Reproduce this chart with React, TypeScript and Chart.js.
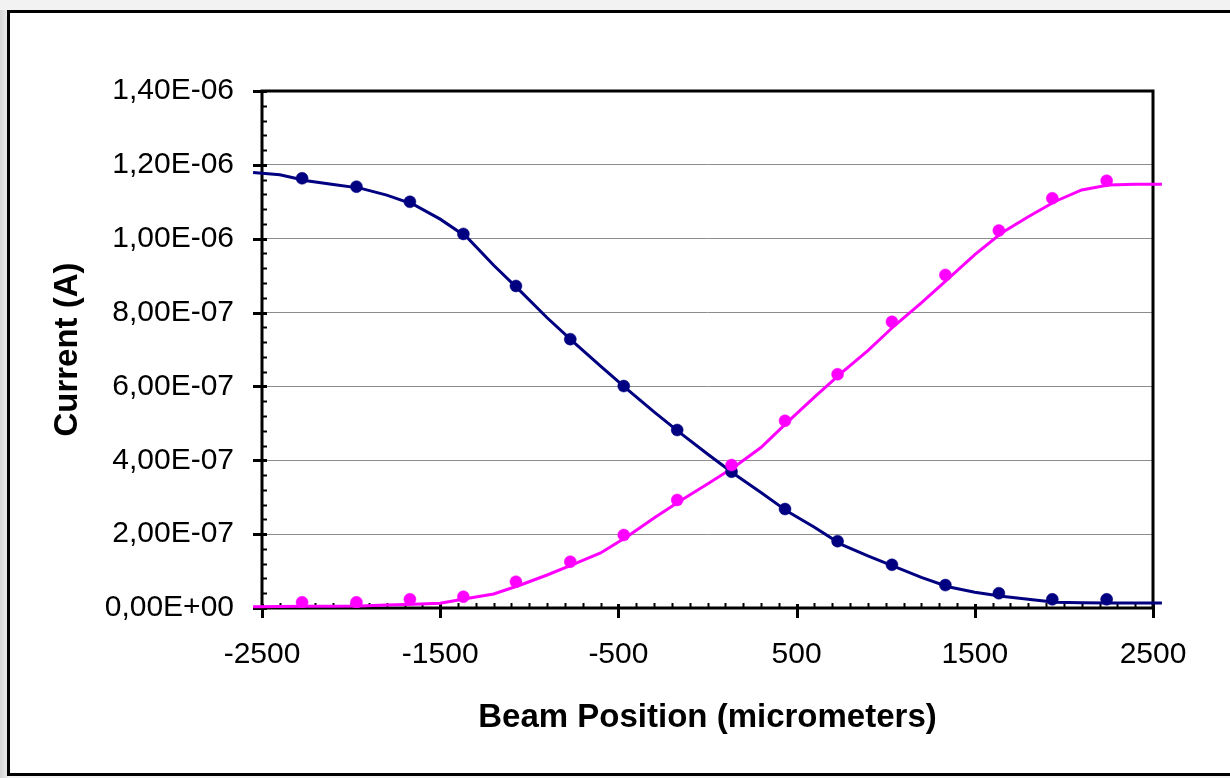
import React, { useEffect, useRef } from "react";
import { Chart, registerables } from "chart.js";

Chart.register(...registerables);

// Measured data points (x in micrometers, y in microamperes)
const pointX = [-2275, -1970, -1670, -1370, -1075, -770, -470, -170, 135, 435, 730, 1035, 1335, 1635, 1935, 2240];
const blueMeasured = [1.1636, 1.141, 1.1, 1.013, 0.872, 0.728, 0.601, 0.482, 0.369, 0.268, 0.181, 0.117, 0.062, 0.04, 0.0235, 0.0235];
const pinkMeasured = [0.0154, 0.0154, 0.0236, 0.0306, 0.0712, 0.1254, 0.1977, 0.2925, 0.387, 0.507, 0.633, 0.775, 0.902, 1.022, 1.1095, 1.157];

// Fit curves (x in micrometers, y in microamperes)
const fitX = [-2550, -2400, -2250, -2100, -1950, -1800, -1650, -1500, -1350, -1200, -1050, -900, -750, -600, -450, -300, -150, 0, 150, 300, 450, 600, 750, 900, 1050, 1200, 1350, 1500, 1650, 1800, 1950, 2100, 2250, 2400, 2550];
const blueFit = [1.179, 1.173, 1.157, 1.147, 1.137, 1.118, 1.093, 1.053, 1.004, 0.928, 0.858, 0.786, 0.7195, 0.655, 0.592, 0.531, 0.473, 0.417, 0.363, 0.313, 0.261, 0.2185, 0.1725, 0.141, 0.112, 0.083, 0.0577, 0.0425, 0.0317, 0.0236, 0.0154, 0.0144, 0.0135, 0.0135, 0.0135];
const pinkFit = [0.0035, 0.004, 0.0046, 0.0049, 0.0054, 0.008, 0.0103, 0.0127, 0.0255, 0.0379, 0.0623, 0.0894, 0.119, 0.149, 0.1936, 0.2437, 0.291, 0.336, 0.382, 0.4346, 0.504, 0.571, 0.636, 0.697, 0.765, 0.826, 0.891, 0.957, 1.0155, 1.0597, 1.1008, 1.132, 1.1455, 1.1474, 1.1474];

const xTickValues = [-2500, -1500, -500, 500, 1500, 2500];
const yTickValues = [0, 2e-7, 4e-7, 6e-7, 8e-7, 1e-6, 1.2e-6, 1.4e-6];
const xMinorStep = 100;
const yMinorStep = 4e-8;

const xTitle = "Beam Position (micrometers)";
const yTitle = "Current (A)";

const MICRO = 1e-6;
const BLUE = "#000080";
const PINK = "#ff00ff";
const FONT = "'Liberation Sans', Arial, sans-serif";

function fmtSci(v: number): string {
  const s = v.toExponential(2);
  const [m, e] = s.split("e");
  const n = parseInt(e, 10);
  const sign = n < 0 ? "-" : "+";
  const abs = Math.abs(n);
  return m.replace(".", ",") + "E" + sign + (abs < 10 ? "0" + abs : String(abs));
}

const framePlugin = {
  id: "frameBg",
  beforeDraw(chart: any) {
    const ctx = chart.ctx;
    const W = chart.width;
    const H = chart.height;
    ctx.save();
    ctx.fillStyle = "#f2f2f2";
    ctx.fillRect(0, 0, W, H);
    const g = ctx.createLinearGradient(0, 0, 8, 0);
    g.addColorStop(0, "#d4d4d4");
    g.addColorStop(1, "#ececec");
    ctx.fillStyle = g;
    ctx.fillRect(0, 10, 8, H - 10);
    ctx.fillStyle = "#ffffff";
    ctx.fillRect(8, 11, W + 20, H - 14);
    ctx.strokeStyle = "#000000";
    ctx.lineWidth = 3;
    ctx.strokeRect(8.5, 11.5, W + 20, H - 15);
    ctx.restore();
  },
  beforeDatasetsDraw(chart: any) {
    const ctx = chart.ctx;
    const { left, right, top, bottom } = chart.chartArea;
    const xs = chart.scales.x;
    const ys = chart.scales.y;
    ctx.save();
    ctx.strokeStyle = "#000000";
    const xMin = xs.min;
    const xMax = xs.max;
    for (let v = xMin; v <= xMax + 1e-6; v += xMinorStep) {
      const px = Math.round(xs.getPixelForValue(v)) + 0.5;
      const isMajor = xTickValues.some((t) => Math.abs(t - v) < 1e-6);
      ctx.beginPath();
      if (isMajor) {
        ctx.lineWidth = 3;
        ctx.moveTo(px, bottom - 4);
        ctx.lineTo(px, bottom + 10);
      } else {
        ctx.lineWidth = 2;
        ctx.moveTo(px, bottom - 5);
        ctx.lineTo(px, bottom + 1);
      }
      ctx.stroke();
    }
    const yMax = ys.max;
    const nMinor = Math.round(yMax / yMinorStep);
    for (let i = 0; i <= nMinor; i++) {
      const v = i * yMinorStep;
      const py = Math.round(ys.getPixelForValue(v)) + 0.5;
      const isMajor = yTickValues.some((t) => Math.abs(t - v) < 1e-12);
      ctx.beginPath();
      if (isMajor) {
        ctx.lineWidth = 3;
        ctx.moveTo(left - 9, py);
        ctx.lineTo(left + 5, py);
      } else {
        ctx.lineWidth = 2;
        ctx.moveTo(left - 1, py);
        ctx.lineTo(left + 5, py);
      }
      ctx.stroke();
    }
    ctx.lineWidth = 3;
    ctx.strokeRect(left, top, right - left, bottom - top);
    ctx.restore();
  },
};

export default function App() {
  const ref = useRef<HTMLCanvasElement | null>(null);
  useEffect(() => {
    if (!ref.current) return;
    const blueLine = fitX.map((x, i) => ({ x, y: blueFit[i] * MICRO }));
    const pinkLine = fitX.map((x, i) => ({ x, y: pinkFit[i] * MICRO }));
    const bluePts = pointX.map((x, i) => ({ x, y: blueMeasured[i] * MICRO }));
    const pinkPts = pointX.map((x, i) => ({ x, y: pinkMeasured[i] * MICRO }));
    const chart = new Chart(ref.current, {
      type: "scatter",
      data: {
        datasets: [
          { label: "blue fit", data: blueLine, showLine: true, borderColor: BLUE, borderWidth: 3, pointRadius: 0, clip: false, order: 4 },
          { label: "pink fit", data: pinkLine, showLine: true, borderColor: PINK, borderWidth: 3, pointRadius: 0, clip: false, order: 3 },
          { label: "blue", data: bluePts, showLine: false, backgroundColor: BLUE, borderColor: BLUE, pointRadius: 6, borderWidth: 0.5, order: 2 },
          { label: "pink", data: pinkPts, showLine: false, backgroundColor: PINK, borderColor: PINK, pointRadius: 6, borderWidth: 0.5, order: 1 },
        ],
      } as any,
      options: {
        responsive: false,
        animation: false,
        layout: { padding: { left: 0, top: 91, right: 77, bottom: 0 } },
        plugins: {
          legend: { display: false },
          tooltip: { enabled: false },
        },
        scales: {
          x: {
            type: "linear",
            min: -2500,
            max: 2500,
            afterFit: (s: any) => { s.height = 170; },
            afterBuildTicks: (s: any) => { s.ticks = xTickValues.map((v) => ({ value: v })); },
            grid: { display: false, drawTicks: false },
            border: { display: false },
            ticks: {
              color: "#000",
              font: { family: FONT, size: 30 },
              padding: 29,
              maxRotation: 0,
              autoSkip: false,
              callback: (v: any) => String(v),
            },
            title: {
              display: true,
              text: xTitle,
              color: "#000",
              font: { family: FONT, size: 33, weight: "bold" },
              padding: { top: 0, bottom: 40 },
            },
          },
          y: {
            type: "linear",
            min: 0,
            max: 1.4e-6,
            afterFit: (s: any) => { s.width = 262; },
            afterBuildTicks: (s: any) => { s.ticks = yTickValues.map((v) => ({ value: v })); },
            grid: { display: true, color: "#8c8c8c", lineWidth: 1, drawTicks: false },
            border: { display: false },
            ticks: {
              color: "#000",
              font: { family: FONT, size: 30 },
              padding: 28,
              autoSkip: false,
              callback: (v: any) => fmtSci(Number(v)),
            },
            title: {
              display: true,
              text: yTitle,
              color: "#000",
              font: { family: FONT, size: 33, weight: "bold" },
              padding: { top: 48, bottom: 0 },
            },
          },
        },
      } as any,
      plugins: [framePlugin],
    });
    return () => chart.destroy();
  }, []);
  return (
    <div style={{ position: "absolute", left: 0, top: 0, width: 1230, height: 778 }}>
      <canvas ref={ref} width={1230} height={778} style={{ display: "block" }} />
    </div>
  );
}
